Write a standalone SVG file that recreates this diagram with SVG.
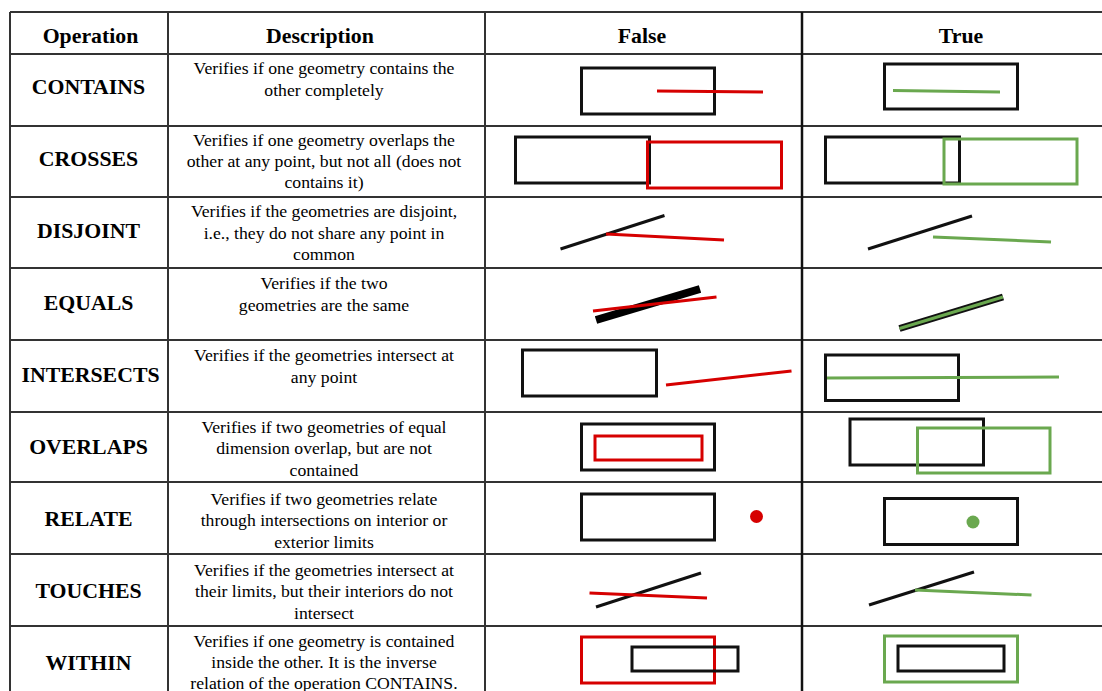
<svg xmlns="http://www.w3.org/2000/svg" width="1102" height="691" viewBox="0 0 1102 691">
<style>
.grid{stroke:#333;stroke-width:2;fill:none}
.hd{font-family:"Liberation Serif",serif;font-weight:bold;font-size:21.8px;text-anchor:middle;fill:#000}
.op{font-family:"Liberation Serif",serif;font-weight:bold;font-size:21.8px;text-anchor:middle;fill:#000}
.ds{font-family:"Liberation Serif",serif;font-size:17.7px;text-anchor:middle;fill:#000}
.k{stroke:#111;stroke-width:3;fill:none}
.r{stroke:#d60000;stroke-width:3;fill:none}
.g{stroke:#6aa84f;stroke-width:3;fill:none}
</style>
<rect width="1102" height="691" fill="#fff"/>
<g id="grid" class="grid">
<line x1="10" y1="12" x2="1102" y2="12"/>
<line x1="10" y1="54" x2="1102" y2="54"/>
<line x1="10" y1="126" x2="1102" y2="126"/>
<line x1="10" y1="197" x2="1102" y2="197"/>
<line x1="10" y1="268" x2="1102" y2="268"/>
<line x1="10" y1="340" x2="1102" y2="340"/>
<line x1="10" y1="412" x2="1102" y2="412"/>
<line x1="10" y1="482" x2="1102" y2="482"/>
<line x1="10" y1="554" x2="1102" y2="554"/>
<line x1="10" y1="626" x2="1102" y2="626"/>
<line x1="10" y1="12" x2="10" y2="691"/>
<line x1="168" y1="12" x2="168" y2="691"/>
<line x1="485" y1="12" x2="485" y2="691"/>
<line x1="802" y1="12" x2="802" y2="691" stroke="#111" stroke-width="2.5"/>
</g>
<g id="header">
<text class="hd" x="90.5" y="43">Operation</text>
<text class="hd" x="320" y="43">Description</text>
<text class="hd" x="642" y="43">False</text>
<text class="hd" x="961" y="43">True</text>
</g>
<g id="contains">
<text class="op" x="88.5" y="94">CONTAINS</text>
<text class="ds" x="324" y="74">Verifies if one geometry contains the</text>
<text class="ds" x="324" y="95.5">other completely</text>
<rect class="k" x="581.5" y="68" width="133" height="46"/>
<line class="r" x1="657" y1="91" x2="763" y2="92"/>
<rect class="k" x="884.5" y="64" width="133" height="45"/>
<line class="g" x1="893" y1="90.5" x2="1000" y2="92"/>
</g>
<g id="crosses">
<text class="op" x="88.5" y="166">CROSSES</text>
<text class="ds" x="324" y="145.5">Verifies if one geometry overlaps the</text>
<text class="ds" x="324" y="166.5">other at any point, but not all (does not</text>
<text class="ds" x="324" y="187.5">contains it)</text>
<rect class="k" x="515.5" y="137" width="134" height="46"/>
<rect class="r" x="647.5" y="142" width="134" height="46"/>
<rect class="k" x="825.5" y="137" width="134" height="46"/>
<rect class="g" x="944" y="139" width="133" height="45"/>
</g>
<g id="disjoint">
<text class="op" x="88.5" y="238">DISJOINT</text>
<text class="ds" x="324" y="217">Verifies if the geometries are disjoint,</text>
<text class="ds" x="324" y="238.5">i.e., they do not share any point in</text>
<text class="ds" x="324" y="259.5">common</text>
<line class="k" x1="560.5" y1="249" x2="664.5" y2="215.5"/>
<line class="r" x1="606" y1="234" x2="724" y2="240"/>
<line class="k" x1="868" y1="249" x2="972" y2="216"/>
<line class="g" x1="933" y1="237" x2="1051" y2="242"/>
</g>
<g id="equals">
<text class="op" x="88.5" y="310">EQUALS</text>
<text class="ds" x="324" y="289">Verifies if the two</text>
<text class="ds" x="324" y="310.5">geometries are the same</text>
<line stroke="#000" stroke-width="8" x1="596" y1="320" x2="700" y2="289"/>
<line class="r" x1="593" y1="311" x2="716.5" y2="297"/>
<line stroke="#111" stroke-width="7" x1="899.5" y1="328.5" x2="1003" y2="297"/>
<line stroke="#6aa84f" stroke-width="3" x1="899.5" y1="328.5" x2="1003" y2="297"/>
</g>
<g id="intersects">
<text class="op" x="90.5" y="382">INTERSECTS</text>
<text class="ds" x="324" y="361">Verifies if the geometries intersect at</text>
<text class="ds" x="324" y="382.5">any point</text>
<rect class="k" x="522.5" y="350" width="134" height="46"/>
<line class="r" x1="666" y1="385" x2="791.5" y2="371"/>
<rect class="k" x="825.5" y="355" width="133" height="45.5"/>
<line class="g" x1="827" y1="378" x2="1059" y2="377"/>
</g>
<g id="overlaps">
<text class="op" x="88.5" y="454">OVERLAPS</text>
<text class="ds" x="324" y="433">Verifies if two geometries of equal</text>
<text class="ds" x="324" y="454.3">dimension overlap, but are not</text>
<text class="ds" x="324" y="475.6">contained</text>
<rect class="k" x="581.5" y="424" width="133" height="46"/>
<rect class="r" x="595" y="436" width="107" height="24"/>
<rect class="k" x="850" y="419" width="133.5" height="46"/>
<rect class="g" x="917.5" y="428" width="132.5" height="45"/>
</g>
<g id="relate">
<text class="op" x="88.5" y="526">RELATE</text>
<text class="ds" x="324" y="505">Verifies if two geometries relate</text>
<text class="ds" x="324" y="526.3">through intersections on interior or</text>
<text class="ds" x="324" y="547.6">exterior limits</text>
<rect class="k" x="581.5" y="494" width="133" height="46"/>
<ellipse cx="756.5" cy="516.5" rx="6.5" ry="6.5" fill="#d60000"/>
<rect class="k" x="884.5" y="498.5" width="133" height="46"/>
<circle cx="973" cy="522" r="6.5" fill="#6aa84f"/>
</g>
<g id="touches">
<text class="op" x="88.5" y="598">TOUCHES</text>
<text class="ds" x="324" y="576">Verifies if the geometries intersect at</text>
<text class="ds" x="324" y="597.3">their limits, but their interiors do not</text>
<text class="ds" x="324" y="618.6">intersect</text>
<line class="k" x1="596" y1="607" x2="701" y2="573"/>
<line class="r" x1="589.5" y1="593" x2="707" y2="598"/>
<line class="k" x1="869" y1="605" x2="974" y2="572"/>
<line class="g" x1="915" y1="590" x2="1031.5" y2="595"/>
</g>
<g id="within">
<text class="op" x="88.5" y="670">WITHIN</text>
<text class="ds" x="324" y="647">Verifies if one geometry is contained</text>
<text class="ds" x="324" y="668">inside the other. It is the inverse</text>
<text class="ds" x="324" y="688.5">relation of the operation CONTAINS.</text>
<rect class="r" x="581.5" y="637" width="133" height="46"/>
<rect class="k" x="632" y="647" width="106" height="24"/>
<rect class="g" x="884.5" y="636" width="133" height="46"/>
<rect class="k" x="898" y="646" width="106" height="25"/>
</g>
</svg>
